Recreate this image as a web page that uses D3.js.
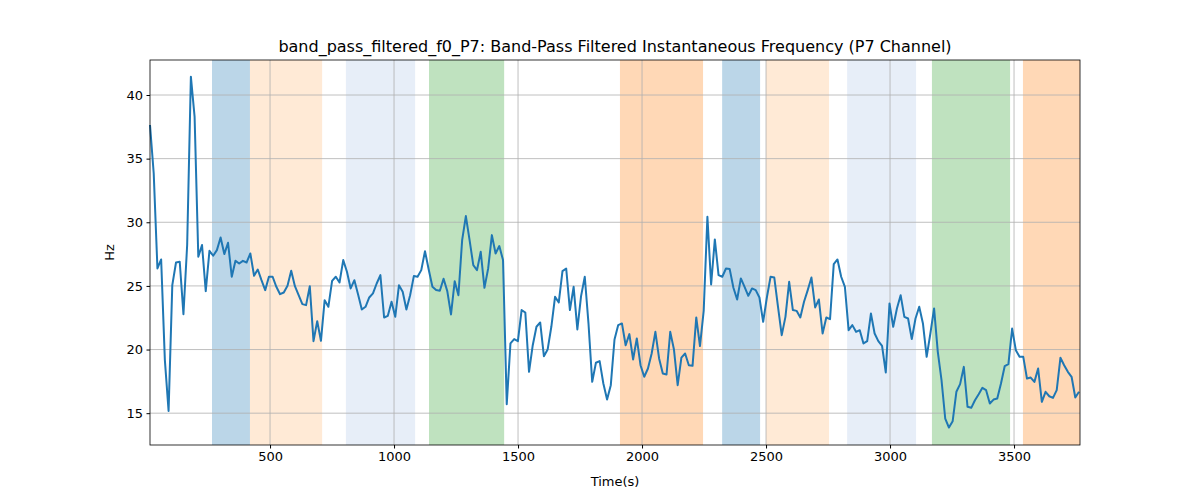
<!DOCTYPE html>
<html>
<head>
<meta charset="utf-8">
<script src="https://cdn.jsdelivr.net/npm/d3@7/dist/d3.min.js"></script>
<style>
body { margin: 0; background: #fff; font-family: "DejaVu Sans", sans-serif; }
</style>
</head>
<body>
<svg id="chart" width="1200" height="500"></svg>
<script>
const T_START = 16, T_END = 3762
const hz = [
  37.64, 33.84, 26.37, 27.08, 19.17, 15.18, 25.06, 26.84, 26.90, 22.78, 28.21, 41.44, 38.30, 27.29, 28.21, 24.59,
  27.76, 27.37, 27.81, 28.81, 27.50, 28.39, 25.72, 26.97, 26.76, 26.97, 26.84, 27.55, 25.80, 26.29, 25.45, 24.67,
  25.72, 25.72, 24.93, 24.35, 24.48, 25.01, 26.19, 24.98, 24.27, 23.57, 23.49, 24.98, 20.66, 22.23, 20.68, 23.88,
  23.36, 25.40, 25.72, 25.27, 27.03, 26.11, 24.80, 25.45, 24.33, 23.15, 23.36, 24.09, 24.41, 25.19, 25.85, 22.52,
  22.65, 23.75, 22.57, 25.06, 24.54, 23.15, 24.27, 25.77, 25.72, 26.24, 27.73, 26.29, 24.93, 24.67, 24.62, 25.56,
  24.59, 22.76, 25.37, 24.27, 28.60, 30.49, 28.60, 26.63, 26.24, 27.68, 24.85, 26.37, 28.99, 27.55, 28.13, 27.03,
  15.71, 20.48, 20.82, 20.66, 23.10, 22.91, 18.25, 20.34, 21.79, 22.13, 19.48, 20.00, 21.79, 24.14, 23.70, 26.16,
  26.37, 23.10, 24.93, 21.58, 24.20, 25.72, 22.05, 17.46, 18.96, 19.09, 17.33, 16.07, 17.20, 20.79, 21.92, 22.05,
  20.34, 21.21, 19.22, 20.87, 18.77, 17.86, 18.51, 19.69, 21.39, 19.30, 18.12, 18.04, 21.39, 20.00, 17.20, 19.37,
  19.69, 18.77, 18.72, 22.52, 20.27, 23.04, 30.43, 25.11, 28.65, 25.85, 25.72, 26.37, 26.32, 24.85, 23.93, 25.59,
  24.93, 24.22, 24.80, 24.67, 24.09, 22.18, 24.09, 25.72, 25.66, 23.36, 21.13, 22.57, 25.32, 23.10, 23.04, 22.52,
  23.75, 24.67, 25.66, 23.31, 23.93, 21.26, 22.52, 22.39, 26.71, 27.08, 25.72, 24.93, 21.52, 21.92, 21.39, 21.52,
  20.48, 20.66, 22.83, 21.26, 20.66, 20.29, 18.20, 23.62, 21.79, 23.23, 24.27, 22.57, 22.44, 20.82, 22.44, 23.36,
  22.05, 19.43, 21.26, 23.23, 19.82, 17.59, 14.58, 13.87, 14.37, 16.68, 17.28, 18.64, 15.50, 15.42, 16.02, 16.49,
  16.99, 16.81, 15.76, 16.07, 16.15, 17.33, 18.69, 18.85, 21.65, 19.95, 19.43, 19.43, 17.72, 17.80, 17.46, 18.51,
  15.89, 16.68, 16.33, 16.20, 16.81, 19.35, 18.77, 18.25, 17.86, 16.23, 16.68
]

// shaded bands: [start, end, colour]
const bandStart = [266, 419, 806, 1141, 1911, 2323, 2500, 2827, 3169, 3536]
const bandEnd   = [419, 710, 1085, 1444, 2246, 2476, 2754, 3105, 3484, 3770]
const bandColor = ['#1f77b4', '#ffbb78', '#aec7e8', '#2ca02c', '#ff7f0e', '#1f77b4', '#ffbb78', '#aec7e8', '#2ca02c', '#ff7f0e']

const xTicks = [500, 1000, 1500, 2000, 2500, 3000, 3500]
const yTicks = [15, 20, 25, 30, 35, 40]

const margin = { top: 60, right: 120, bottom: 55, left: 150 },
    width = 1200, height = 500

const svg = d3.select('#chart')

const x = d3.scaleLinear()
    .domain([T_START, 3766])
    .range([margin.left, width - margin.right])

const y = d3.scaleLinear()
    .domain([12.5, 42.75])
    .range([height - margin.bottom, margin.top])

const step = (T_END - T_START) / (hz.length - 1)
const series = hz.map((v, i) => ({ t: T_START + i * step, v }))

svg.append('g')
    .selectAll('rect')
    .data(bandStart)
    .join('rect')
    .attr('x', (d, i) => x(d))
    .attr('width', (d, i) => x(Math.min(bandEnd[i], 3766)) - x(d))
    .attr('y', margin.top)
    .attr('height', height - margin.bottom - margin.top)
    .attr('fill', (d, i) => bandColor[i])
    .attr('opacity', 0.3)

// grid
svg.append('g')
    .selectAll('line')
    .data(xTicks)
    .join('line')
    .attr('x1', d => x(d)).attr('x2', d => x(d))
    .attr('y1', margin.top).attr('y2', height - margin.bottom)
    .attr('stroke', '#b0b0b0').attr('stroke-width', 0.8)
svg.append('g')
    .selectAll('line')
    .data(yTicks)
    .join('line')
    .attr('y1', d => y(d)).attr('y2', d => y(d))
    .attr('x1', margin.left).attr('x2', width - margin.right)
    .attr('stroke', '#b0b0b0').attr('stroke-width', 0.8)

svg.append('path')
    .datum(series)
    .attr('fill', 'none')
    .attr('stroke', '#1f77b4')
    .attr('stroke-width', 2)
    .attr('stroke-linejoin', 'round')
    .attr('d', d3.line().x(d => x(d.t)).y(d => y(d.v)))

const xAxis = svg.append('g')
    .attr('transform', `translate(0,${height - margin.bottom})`)
    .call(d3.axisBottom(x).tickValues(xTicks).tickSize(3.5).tickPadding(3.5).tickFormat(d3.format('d')))
const yAxis = svg.append('g')
    .attr('transform', `translate(${margin.left},0)`)
    .call(d3.axisLeft(y).tickValues(yTicks).tickSize(3.5).tickPadding(3.5))
for (const a of [xAxis, yAxis]) {
    a.select('.domain').remove()
    a.selectAll('text').attr('font-size', 13).attr('fill', '#000').attr('font-family', 'DejaVu Sans')
    a.selectAll('line').attr('stroke', '#000')
}

svg.append('rect')
    .attr('x', margin.left).attr('y', margin.top)
    .attr('width', width - margin.right - margin.left)
    .attr('height', height - margin.bottom - margin.top)
    .attr('fill', 'none').attr('stroke', '#000').attr('stroke-width', 0.8)

svg.append('text')
    .attr('x', (margin.left + width - margin.right) / 2).attr('y', 52)
    .attr('text-anchor', 'middle').attr('font-size', 16)
    .text('band_pass_filtered_f0_P7: Band-Pass Filtered Instantaneous Frequency (P7 Channel)')
svg.append('text')
    .attr('x', (margin.left + width - margin.right) / 2).attr('y', 486)
    .attr('text-anchor', 'middle').attr('font-size', 13)
    .text('Time(s)')
svg.append('text')
    .attr('transform', `translate(114,${(margin.top + height - margin.bottom) / 2}) rotate(-90)`)
    .attr('text-anchor', 'middle').attr('font-size', 13)
    .text('Hz')
</script>
</body>
</html>
